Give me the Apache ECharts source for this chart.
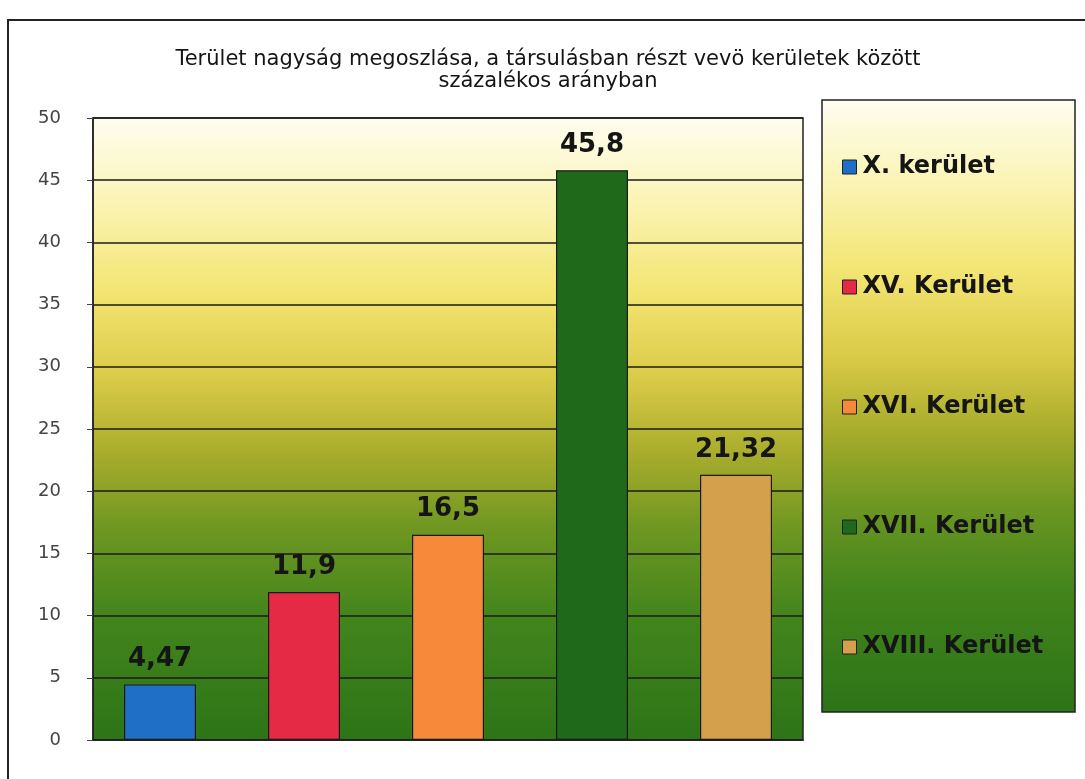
<!DOCTYPE html>
<html>
<head>
<meta charset="utf-8">
<script src="https://cdn.jsdelivr.net/npm/echarts@6/dist/echarts.min.js"></script>
<style>
  html, body { margin: 0; padding: 0; background: #ffffff; }
  #chart { width: 1085px; height: 779px; }
</style>
</head>
<body>
<div id="chart"></div>
<script>
// Area share of the districts in the association (percent)
const districts = ['X. kerület', 'XV. Kerület', 'XVI. Kerület', 'XVII. Kerület', 'XVIII. Kerület'];
const shares = [4.47, 11.9, 16.5, 45.8, 21.32];
const barColors = ['#1f6fc6', '#e42a45', '#f68a3a', '#1f6a1a', '#d4a04c'];
const yTicks = { min: 0, max: 50, interval: 5 };
const titleText = 'Terület nagyság megoszlása, a társulásban részt vevö kerületek között\nszázalékos arányban';

const fontFamily = '"DejaVu Sans", Verdana, sans-serif';

// Pale cream at the top fading through yellow into deep green at the bottom
function meadowGradient() {
  return new echarts.graphic.LinearGradient(0, 0, 0, 1, [
    { offset: 0.00, color: '#fefdf0' },
    { offset: 0.12, color: '#fbf5bc' },
    { offset: 0.28, color: '#f3e572' },
    { offset: 0.42, color: '#d9ca46' },
    { offset: 0.54, color: '#a8ac2c' },
    { offset: 0.66, color: '#6e9722' },
    { offset: 0.80, color: '#43851c' },
    { offset: 1.00, color: '#2d7418' }
  ]);
}

const chart = echarts.init(document.getElementById('chart'), null, { renderer: 'canvas' });

const series = districts.map((name, i) => ({
  name: name,
  type: 'bar',
  data: [shares[i]],
  barWidth: 72,
  barGap: '100%',
  itemStyle: { color: barColors[i], borderColor: '#1a1a1a', borderWidth: 1.2 },
  label: {
    show: true,
    position: 'top',
    distance: 12,
    color: '#151515',
    fontSize: 26,
    fontWeight: 'bold',
    fontFamily: fontFamily,
    formatter: (p) => String(p.value).replace('.', ',')
  }
}));

chart.setOption({
  backgroundColor: '#ffffff',
  animation: false,
  color: barColors,
  title: {
    text: titleText,
    left: 543,
    textAlign: 'center',
    top: 44,
    textStyle: {
      fontFamily: fontFamily,
      fontSize: 21,
      fontWeight: 'normal',
      color: '#151515',
      lineHeight: 22
    }
  },
  graphic: [
    {
      type: 'rect',
      z: 0,
      shape: { x: 8, y: 20, width: 1100, height: 800 },
      style: { fill: 'none', stroke: '#222', lineWidth: 2 }
    },
    {
      type: 'rect',
      z: 0,
      shape: { x: 822, y: 100, width: 253, height: 612 },
      style: { fill: meadowGradient(), stroke: '#222', lineWidth: 1.5 }
    }
  ],
  legend: {
    orient: 'vertical',
    left: 837,
    top: 150,
    itemGap: 96,
    icon: 'rect',
    itemWidth: 14,
    itemHeight: 14,
    itemStyle: { borderColor: '#222', borderWidth: 1 },
    textStyle: {
      fontFamily: fontFamily,
      fontSize: 24,
      fontWeight: 'bold',
      color: '#151515',
      padding: [0, 0, 0, 1]
    },
    data: districts
  },
  grid: {
    left: 93,
    top: 118,
    width: 710,
    height: 622,
    show: true,
    backgroundColor: meadowGradient(),
    borderColor: '#222',
    borderWidth: 1.5
  },
  xAxis: {
    type: 'category',
    data: [''],
    axisLine: { show: true, lineStyle: { color: '#222', width: 1.5 } },
    axisTick: { show: false },
    axisLabel: { show: false }
  },
  yAxis: {
    type: 'value',
    min: yTicks.min,
    max: yTicks.max,
    interval: yTicks.interval,
    axisLine: { show: true, lineStyle: { color: '#222', width: 1.5 } },
    axisTick: { show: true, length: 6, lineStyle: { color: '#444' } },
    axisLabel: {
      margin: 32,
      color: '#444',
      fontSize: 18,
      fontFamily: fontFamily
    },
    splitLine: { show: true, lineStyle: { color: '#1a1a1a', width: 1.5 } }
  },
  series: series
});
</script>
</body>
</html>
